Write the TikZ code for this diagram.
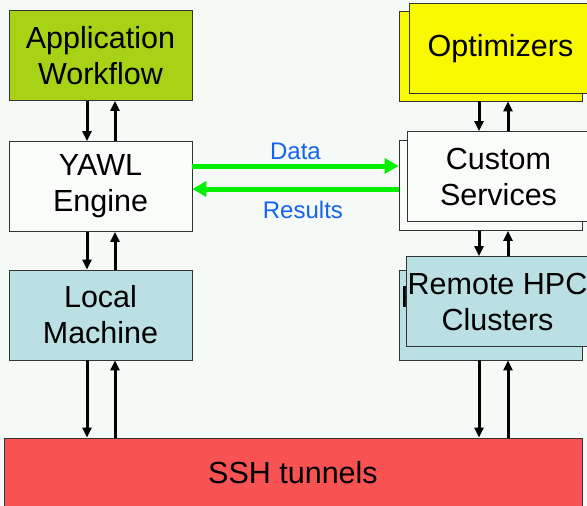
\documentclass[tikz,border=0pt]{standalone}
\usepackage{fontspec}
\setmainfont{Liberation Sans}
\usetikzlibrary{arrows.meta}
\definecolor{paper}{RGB}{245,250,247}
\definecolor{appgreen}{RGB}{168,210,22}
\definecolor{optyellow}{RGB}{248,248,0}
\definecolor{hostblue}{RGB}{186,224,228}
\definecolor{engwhite}{RGB}{250,252,250}
\definecolor{sshred}{RGB}{248,82,82}
\definecolor{flowgreen}{RGB}{0,240,0}
\definecolor{labelblue}{RGB}{20,100,240}

\begin{document}
\begin{tikzpicture}[x=1pt,y=-1pt,>={Triangle[length=10pt,width=9pt]},
    box/.style={draw=black!80, line width=0.8pt, minimum width=183pt, minimum height=90pt, inner sep=0pt, align=center, font=\fontsize{30.5}{36}\selectfont},
    link/.style={->, line width=3pt},
    flow/.style={-{Triangle[length=14pt,width=15pt]}, draw=flowgreen, line width=5pt},
    flowlabel/.style={text=labelblue, inner sep=0pt, font=\fontsize{24}{28}\selectfont}]
				\clip (0,0) rectangle (587,506);
				\fill[paper] (0,0) rectangle (587,506);

				% left column
				\node[box, fill=appgreen]  (appwf)  at (100.5,55.5)  {Application\\Workflow};
				\node[box, fill=engwhite]  (yawl)   at (100.5,186.5) {YAWL\\Engine};
				\node[box, fill=hostblue]  (local)  at (100.5,315)   {Local\\Machine};

				% right column, back copies first
				\node[box, fill=optyellow] (optback)   at (490.5,56)    {};
				\node[box, fill=optyellow] (optfront)  at (500.5,48.5)  {Optimizers};
				\node[box, fill=engwhite]  (custback)  at (490.5,185.5) {};
				\node[box, fill=engwhite]  (custfront) at (498.5,176.5) {Custom\\Services};
				\node[box, fill=hostblue]  (hpcback)   at (490.5,315)   {Remote HPC\\Clusters};
				\node[box, fill=hostblue]  (hpcfront)  at (497.5,301.5) {Remote HPC\\Clusters};

				\node[box, fill=sshred, minimum width=578pt, minimum height=69pt] (ssh) at (293,472.5) {SSH tunnels};

				\coordinate (ldown) at (87,0);
				\coordinate (lup)   at (115,0);
				\coordinate (rdown) at (479,0);
				\coordinate (rup)   at (508,0);

				\draw[link] (appwf.south -| ldown) -- (yawl.north -| ldown);
				\draw[link] (yawl.north -| lup)    -- (appwf.south -| lup);
				\draw[link] (yawl.south -| ldown)  -- (local.north -| ldown);
				\draw[link] (local.north -| lup)   -- (yawl.south -| lup);
				\draw[link] (local.south -| ldown) -- (ssh.north -| ldown);
				\draw[link] (ssh.north -| lup)     -- (local.south -| lup);

				\draw[link] (optback.south -| rdown)  -- (custfront.north -| rdown);
				\draw[link] (custfront.north -| rup)  -- (optback.south -| rup);
				\draw[link] (custback.south -| rdown) -- (hpcfront.north -| rdown);
				\draw[link] (hpcfront.north -| rup)   -- (custback.south -| rup);
				\draw[link] (hpcback.south -| rdown)  -- (ssh.north -| rdown);
				\draw[link] (ssh.north -| rup)        -- (hpcback.south -| rup);

				% data exchange
				\draw[flow] ([yshift=20.5pt]yawl.east) -- node[flowlabel, above=4pt] {Data} ([yshift=20.5pt]yawl.east -| custback.west);
				\draw[flow] ([yshift=-2.5pt]yawl.east -| custback.west) -- node[flowlabel, below=9.5pt, pos=0.464] {Results} ([yshift=-2.5pt]yawl.east);
\end{tikzpicture}
\end{document}
